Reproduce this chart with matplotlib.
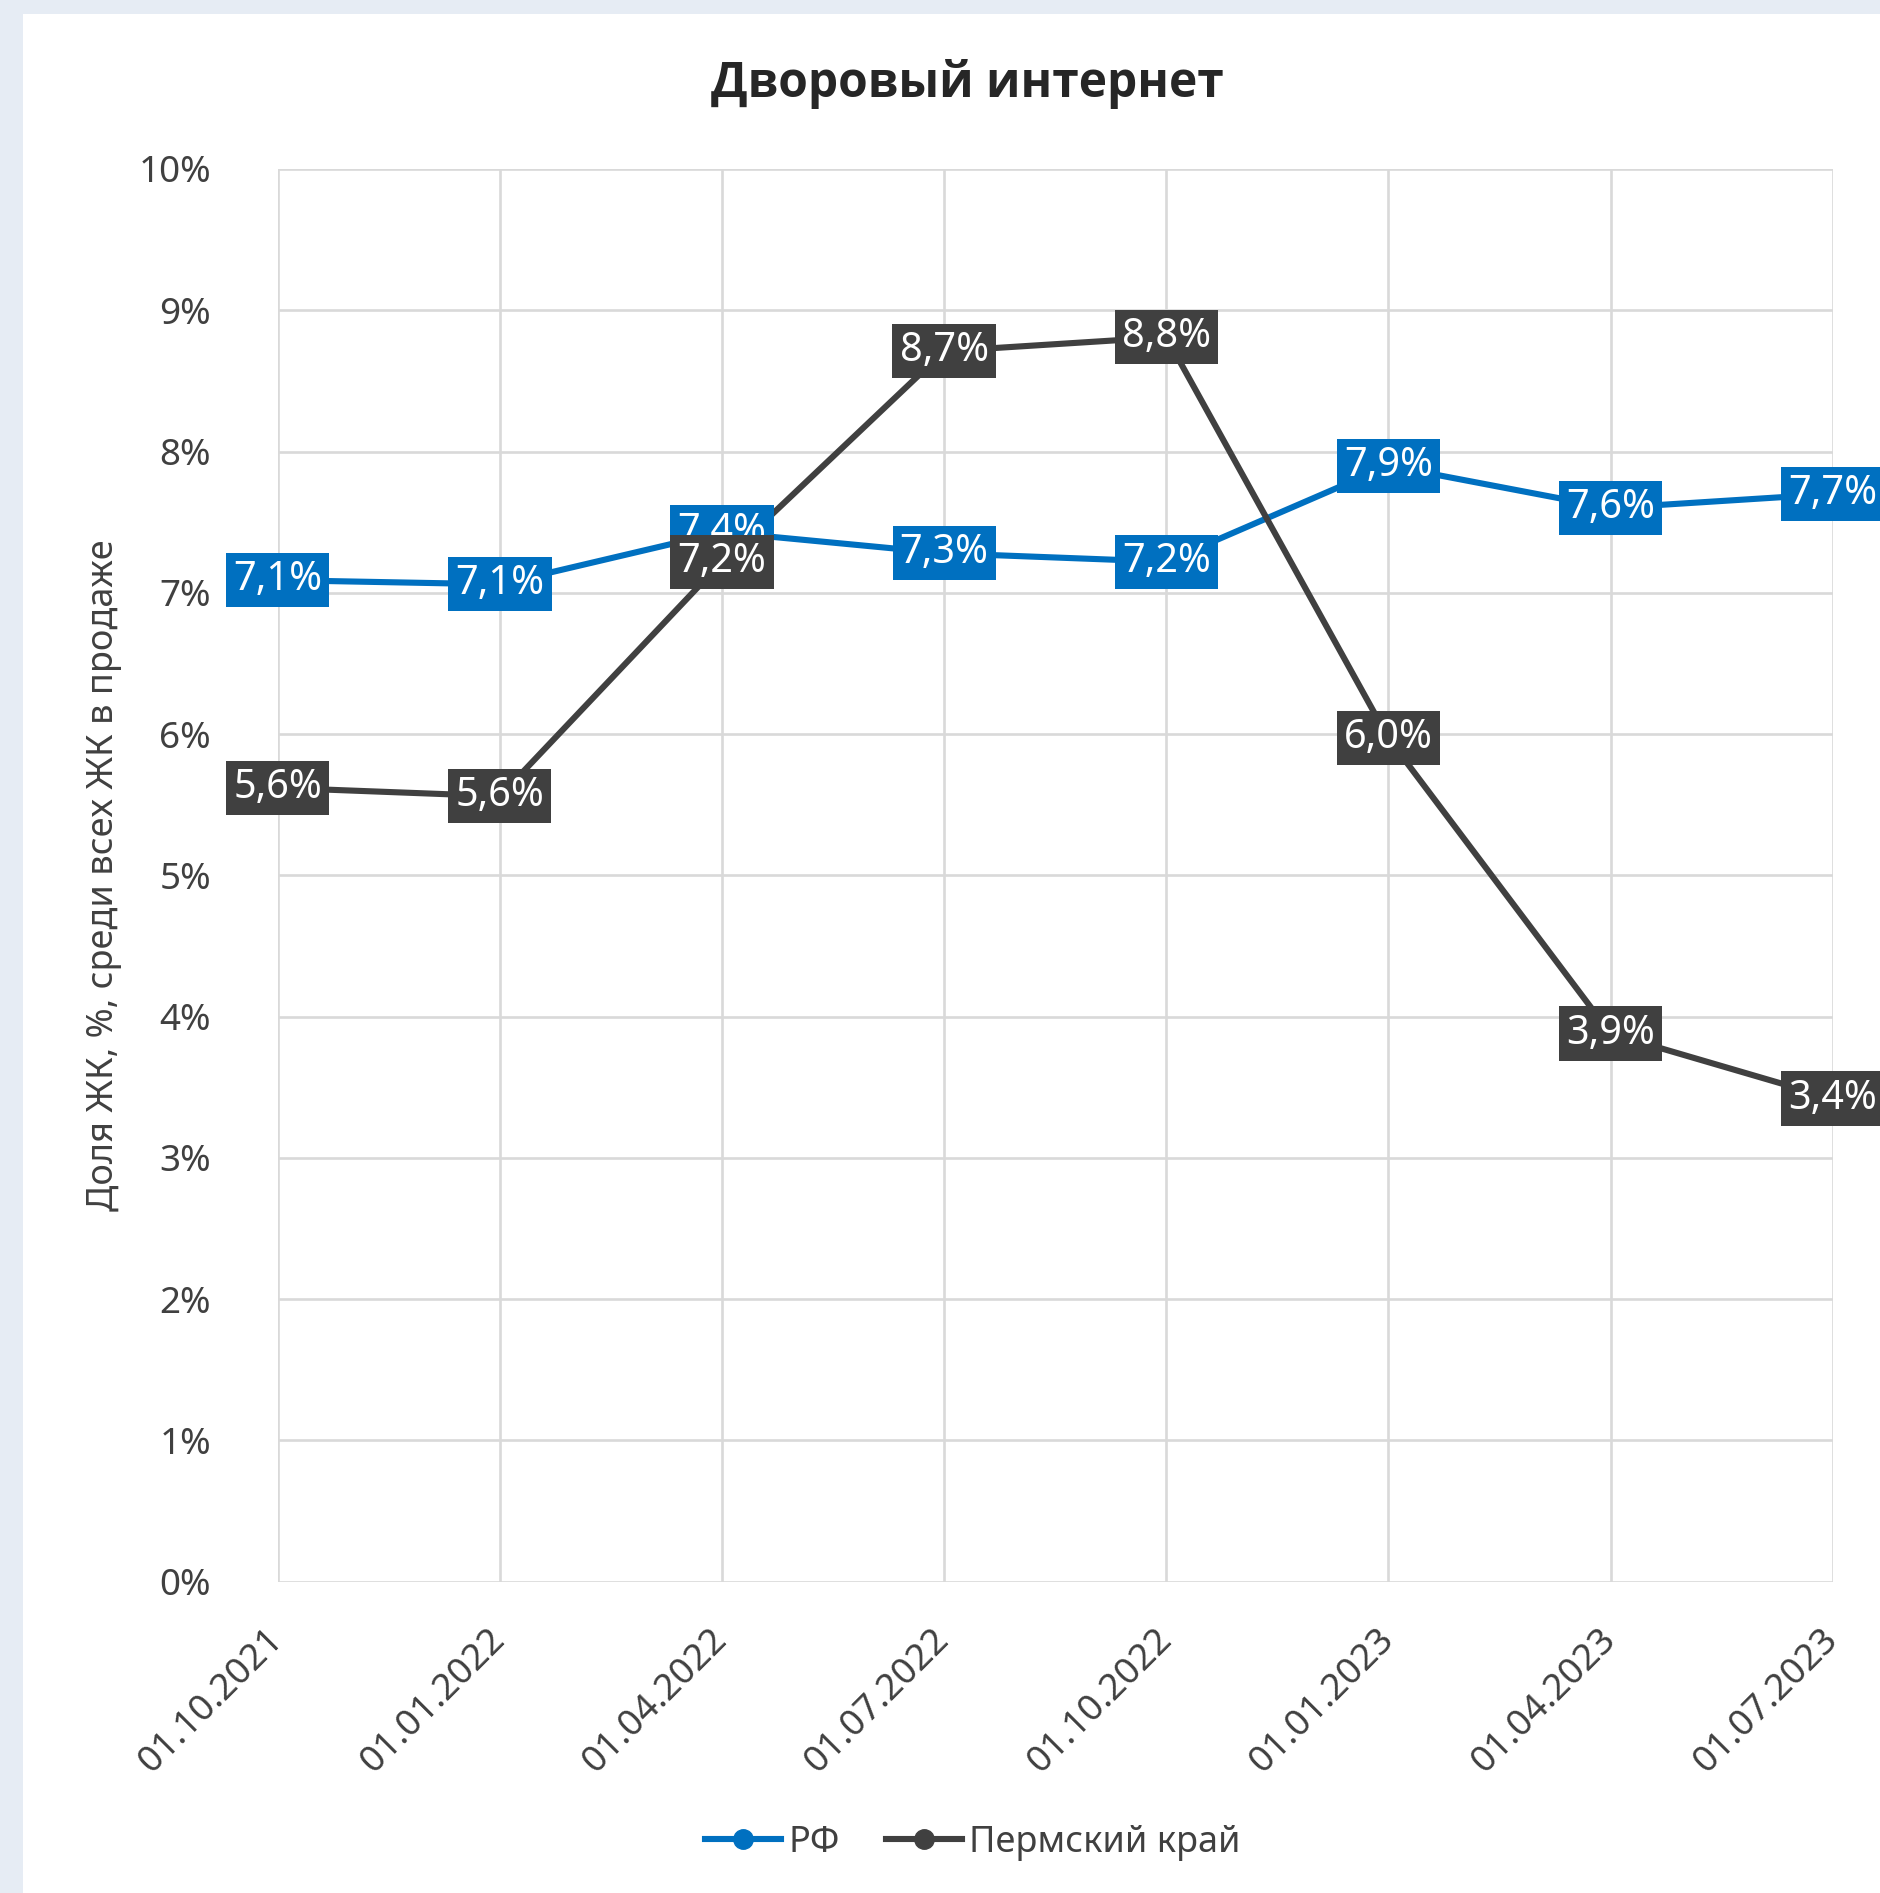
"""
Дворовый интернет — share of residential complexes (ЖК) with courtyard internet,
RF vs Perm region, quarterly.
"""
import matplotlib
matplotlib.use("Agg")
import matplotlib.pyplot as plt
from matplotlib.patches import Rectangle
from matplotlib.ticker import FuncFormatter

# --------------------------------------------------------------------------- #
#  DATA
# --------------------------------------------------------------------------- #
dates = ["01.10.2021", "01.01.2022", "01.04.2022", "01.07.2022",
         "01.10.2022", "01.01.2023", "01.04.2023", "01.07.2023"]
rf = [7.09, 7.06, 7.43, 7.28, 7.22, 7.90, 7.60, 7.70]
perm = [5.62, 5.56, 7.22, 8.71, 8.81, 5.97, 3.88, 3.42]
series_names = ["РФ", "Пермский край"]

# --------------------------------------------------------------------------- #
#  STYLE
# --------------------------------------------------------------------------- #
BLUE = "#0070C0"
DARK = "#404040"
GRID = "#D9D9D9"
INK = "#404040"
PAGE = "#E6ECF4"

plt.rcParams.update({
    "font.family": ["Noto Sans", "DejaVu Sans"],
    "font.size": 26,
})

W, H = 1881, 1893
fig = plt.figure(figsize=(W / 100, H / 100), dpi=100)
fig.patch.set_facecolor(PAGE)
fig.add_artist(Rectangle((23 / W, 0), 1 - 23 / W, 1 - 14 / H,
                         transform=fig.transFigure, facecolor="white",
                         edgecolor="none", zorder=0))

left, right, top, bottom = 277.7, 1832.8, 169, 1581.7
ax = fig.add_axes([left / W, 1 - bottom / H, (right - left) / W, (bottom - top) / H])
ax.set_facecolor("none")

x = list(range(len(dates)))
ax.plot(x, rf, color=BLUE, lw=4.4, marker="o", ms=14, zorder=3, label=series_names[0])
ax.plot(x, perm, color=DARK, lw=4.4, marker="o", ms=14, zorder=3, label=series_names[1])


def fmt(v):
    return f"{v:.1f}".replace(".", ",") + "%"


for vals, col, z in ((rf, BLUE, 5), (perm, DARK, 6)):
    for xi, v in zip(x, vals):
        ax.text(xi, v, fmt(v), ha="center", va="center", color="white",
                fontsize=28.5, zorder=z, clip_on=False,
                bbox=dict(boxstyle="square,pad=0.18", facecolor=col,
                          edgecolor="none"))

ax.set_xlim(0, len(dates) - 1)
ax.set_ylim(0, 10)
ax.set_yticks(range(0, 11))
ax.yaxis.set_major_formatter(FuncFormatter(lambda v, _: f"{v:.0f}%"))
ax.set_xticks(x)
ax.set_xticklabels(dates, rotation=45, ha="right", va="center",
                   rotation_mode="anchor")
ax.tick_params(axis="both", length=0, colors=INK, labelsize=26.5)
ax.tick_params(axis="y", pad=48)
ax.tick_params(axis="x", pad=38)
ax.grid(True, color=GRID, lw=1.9, zorder=1)
ax.set_axisbelow(True)
for s in ax.spines.values():
    s.set_visible(False)

ax.set_ylabel("Доля ЖК, %, среди всех ЖК в продаже", fontsize=26, color=INK)
ax.yaxis.set_label_coords(-0.100, 0.5)

fig.text(967 / W, 1 - 84 / H, "Дворовый интернет", ha="center", va="center",
         fontsize=34.5, fontweight="bold", color="#262626",
         family=["Open Sans", "Roboto", "DejaVu Sans"])

fig.legend(loc="center", bbox_to_anchor=(973 / W, 1 - 1843 / H), ncol=2,
           frameon=False, fontsize=26, handlelength=2.1, handletextpad=0.2,
           columnspacing=1.3, labelcolor=INK)

fig.savefig("out.png", dpi=100, facecolor=PAGE)
